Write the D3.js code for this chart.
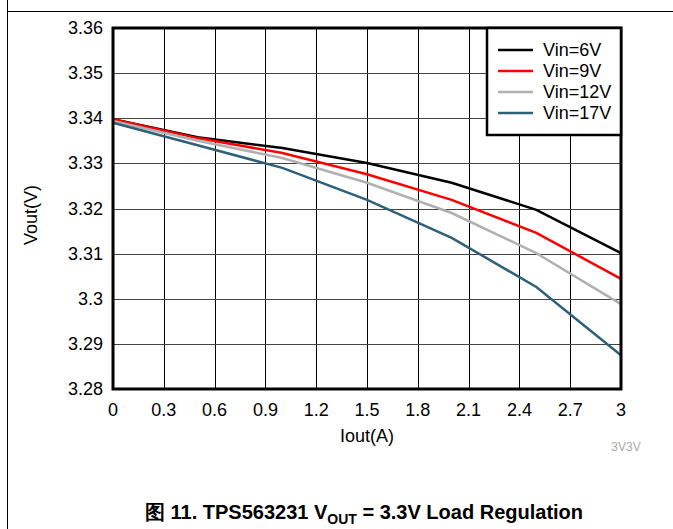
<!DOCTYPE html>
<html>
<head>
<meta charset="utf-8">
<script src="https://cdn.jsdelivr.net/npm/d3@7"></script>
<style>
body { margin: 0; background: #fff; }
svg { display: block; font-family: "Liberation Sans", Arial, sans-serif; }
</style>
</head>
<body>
<svg id="chart" width="673" height="529"></svg>
<script>
// load current (A)
var iout = [0, 0.5, 1.0, 1.5, 2.0, 2.5, 3.0];
// output voltage per input voltage
var vin6  = [3.3398, 3.3358, 3.3334, 3.3301, 3.3257, 3.3197, 3.3101];
var vin9  = [3.3398, 3.3356, 3.3323, 3.3276, 3.3219, 3.3146, 3.3044];
var vin12 = [3.3394, 3.3350, 3.3312, 3.3257, 3.3190, 3.3101, 3.2988];
var vin17 = [3.3390, 3.3340, 3.3290, 3.3219, 3.3135, 3.3026, 3.2875];
var seriesNames = ["Vin=6V", "Vin=9V", "Vin=12V", "Vin=17V"];
var xTicks = [0, 0.3, 0.6, 0.9, 1.2, 1.5, 1.8, 2.1, 2.4, 2.7, 3];
var yTicks = [3.28, 3.29, 3.3, 3.31, 3.32, 3.33, 3.34, 3.35, 3.36];

var colors = ["#000000", "#ff0000", "#b0b0b0", "#2f6079"];
var seriesVals = [vin6, vin9, vin12, vin17];

var svg = d3.select("#chart");

// page frame
svg.append("line").attr("x1", 7.5).attr("x2", 7.5).attr("y1", 0).attr("y2", 529)
   .attr("stroke", "#000").attr("stroke-width", 1);
svg.append("line").attr("x1", 7.5).attr("x2", 673).attr("y1", 11.5).attr("y2", 11.5)
   .attr("stroke", "#000").attr("stroke-width", 1);

var plotLeft = 113, plotTop = 28, width = 508, height = 361;

var x = d3.scaleLinear().domain([0, 3]).range([0, width]);
var y = d3.scaleLinear().domain([3.28, 3.36]).range([height, 0]);

var g = svg.append("g").attr("transform", "translate(" + plotLeft + "," + plotTop + ")");

// grid
g.selectAll(".vgrid").data(xTicks).enter().append("line")
 .attr("x1", function(d) { return Math.round(x(d)) + 0.5; })
 .attr("x2", function(d) { return Math.round(x(d)) + 0.5; })
 .attr("y1", 0).attr("y2", height)
 .attr("stroke", "#000").attr("stroke-width", 1);
g.selectAll(".hgrid").data(yTicks).enter().append("line")
 .attr("x1", 0).attr("x2", width)
 .attr("y1", function(d) { return Math.round(y(d)) + 0.5; })
 .attr("y2", function(d) { return Math.round(y(d)) + 0.5; })
 .attr("stroke", "#444").attr("stroke-width", 1);

// tick labels
g.selectAll(".xl").data(xTicks).enter().append("text")
 .attr("x", function(d) { return x(d); })
 .attr("y", height + 27)
 .attr("text-anchor", "middle")
 .attr("font-size", "18px")
 .text(function(d) { return d; });
g.selectAll(".yl").data(yTicks).enter().append("text")
 .attr("x", -10)
 .attr("y", function(d) { return y(d) + 6; })
 .attr("text-anchor", "end")
 .attr("font-size", "18px")
 .text(function(d) { return d; });

// lines
var line = d3.line()
  .x(function(d, i) { return x(iout[i]); })
  .y(function(d) { return y(d); });

seriesVals.forEach(function(vals, k) {
  g.append("path")
   .datum(vals)
   .attr("d", line)
   .attr("fill", "none")
   .attr("stroke", colors[k])
   .attr("stroke-width", 2.5);
});

// plot border
g.append("rect").attr("x", 0).attr("y", 0).attr("width", width).attr("height", height)
 .attr("fill", "none").attr("stroke", "#000").attr("stroke-width", 3);

// legend
var lg = g.append("g").attr("transform", "translate(" + (width - 134) + ",0)");
lg.append("rect").attr("x", 0).attr("y", 0).attr("width", 134).attr("height", 107)
  .attr("fill", "#fff").attr("stroke", "#000").attr("stroke-width", 2.5);
seriesNames.forEach(function(name, k) {
  var yy = 22 + k * 21;
  lg.append("line").attr("x1", 11).attr("x2", 46).attr("y1", yy).attr("y2", yy)
    .attr("stroke", colors[k]).attr("stroke-width", 2.5);
  lg.append("text").attr("x", 56).attr("y", yy + 6).attr("font-size", "18px").text(name);
});

// axis titles
svg.append("text").attr("x", plotLeft + width / 2).attr("y", 442)
   .attr("text-anchor", "middle").attr("font-size", "18px").text("Iout(A)");
svg.append("text").attr("transform", "translate(37,215) rotate(-90)")
   .attr("text-anchor", "middle").attr("font-size", "18px").text("Vout(V)");
svg.append("text").attr("x", 626).attr("y", 451)
   .attr("text-anchor", "middle").attr("font-size", "12px").attr("fill", "#aaa").text("3V3V");

// caption
var cap = svg.append("text").attr("x", 364).attr("y", 519)
   .attr("text-anchor", "middle").attr("font-size", "20px").attr("font-weight", "bold");
cap.append("tspan").text("图 11. TPS563231 V");
cap.append("tspan").attr("font-size", "14px").attr("dy", 5).text("OUT");
cap.append("tspan").attr("dy", -5).text(" = 3.3V Load Regulation");
</script>
</body>
</html>
